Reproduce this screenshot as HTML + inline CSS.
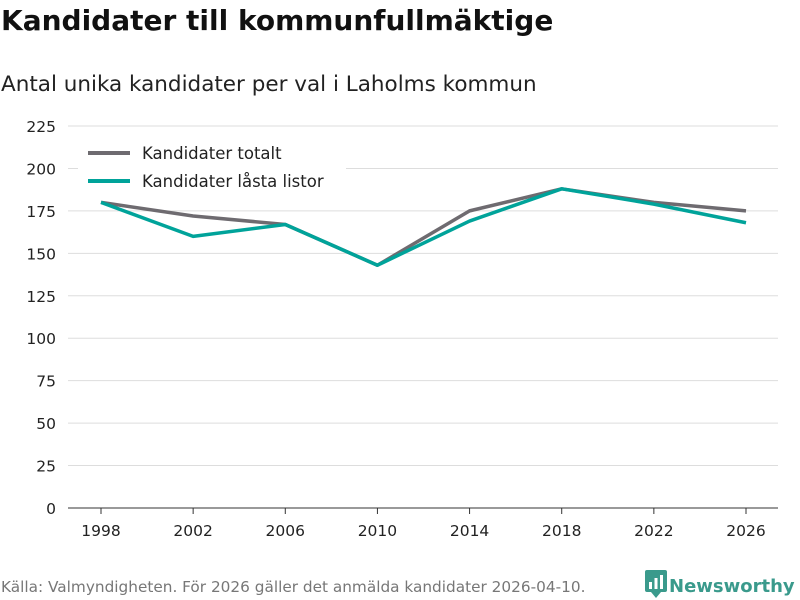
<!DOCTYPE html>
<html><head><meta charset="utf-8"><style>
body{margin:0;background:#fff;font-family:"DejaVu Sans","Liberation Sans",sans-serif;}
#wrap{position:relative;width:800px;height:600px;overflow:hidden;}
h1{position:absolute;left:1px;top:4px;margin:0;font-size:28px;font-weight:bold;color:#111;}
.sub{position:absolute;left:1px;top:72px;font-size:21.5px;color:#222;}
.src{position:absolute;left:1px;top:578px;font-size:15.3px;color:#777;white-space:nowrap;}
.logo{position:absolute;left:645px;top:570px;font-size:18px;font-weight:bold;color:#3a9a8c;white-space:nowrap;}
</style></head><body>
<div id="wrap">
<h1>Kandidater till kommunfullmäktige</h1>
<div class="sub">Antal unika kandidater per val i Laholms kommun</div>
<svg id="svg" width="800" height="600" style="position:absolute;left:0;top:0"></svg>
<div class="src">Källa: Valmyndigheten. För 2026 gäller det anmälda kandidater 2026-04-10.</div>
<div class="logo"><svg width="24" height="28" style="vertical-align:-6px"><rect x="0" y="0" width="22" height="22" rx="2" fill="#3a9a8c"/><polygon points="6,22 16,22 11,28" fill="#3a9a8c"/><rect x="4" y="12" width="3" height="7" fill="#fff"/><rect x="9.5" y="8" width="3" height="11" fill="#fff"/><rect x="15" y="5" width="3" height="14" fill="#fff"/></svg>Newsworthy</div>
</div>
<script>
const years=[1998,2002,2006,2010,2014,2018,2022,2026];
const totalt=[180,172,167,143,175,188,180,175];
const lasta=[180,160,167,143,169,188,179,168];
const yTicks=[0,25,50,75,100,125,150,175,200,225];
const NS="http://www.w3.org/2000/svg";
const svg=document.getElementById('svg');
const x=v=>101+(v-1998)*(746-101)/28;
const y=v=>508-v*(508-126)/225;
function mk(t,a){const e=document.createElementNS(NS,t);for(const k in a)e.setAttribute(k,a[k]);svg.appendChild(e);return e;}
yTicks.forEach(t=>{
 const l=mk('line',{x1:68,x2:778,y1:y(t),y2:y(t),stroke:t===0?'#333':'#ddd','stroke-width':1});
 
 
 const tx=mk('text',{x:56,y:y(t)+6,'text-anchor':'end','font-size':15.5,fill:'#222'});
 tx.textContent=t;
 
 
});
years.forEach(v=>{
 const l=mk('line',{x1:x(v),x2:x(v),y1:508,y2:514,stroke:'#333'});
 
 
 const tx=mk('text',{x:x(v),y:536,'text-anchor':'middle','font-size':15.5,fill:'#222'});
 tx.textContent=v;
 
 
});
function line(d,c,n){
 const p=mk('polyline',{points:d.map((v,i)=>x(years[i])+','+y(v)).join(' '),fill:'none',stroke:c,'stroke-width':3.5,'stroke-linejoin':'round'});
 
 
}
line(totalt,'#6e6b70','line-kandidater-totalt');
line(lasta,'#00a39a','line-kandidater-lasta-listor');
const bg=mk('rect',{x:78,y:138,width:268,height:58,fill:'#fff'});


[['Kandidater totalt','#6e6b70',153],['Kandidater låsta listor','#00a39a',181]].forEach(([t,c,yy])=>{
 const l=mk('line',{x1:88,x2:130,y1:yy,y2:yy,stroke:c,'stroke-width':4});
 
 
 const tx=mk('text',{x:142,y:yy+6,'font-size':16.5,fill:'#222'});
 tx.textContent=t;
 
 
});
</script>
</body></html>
